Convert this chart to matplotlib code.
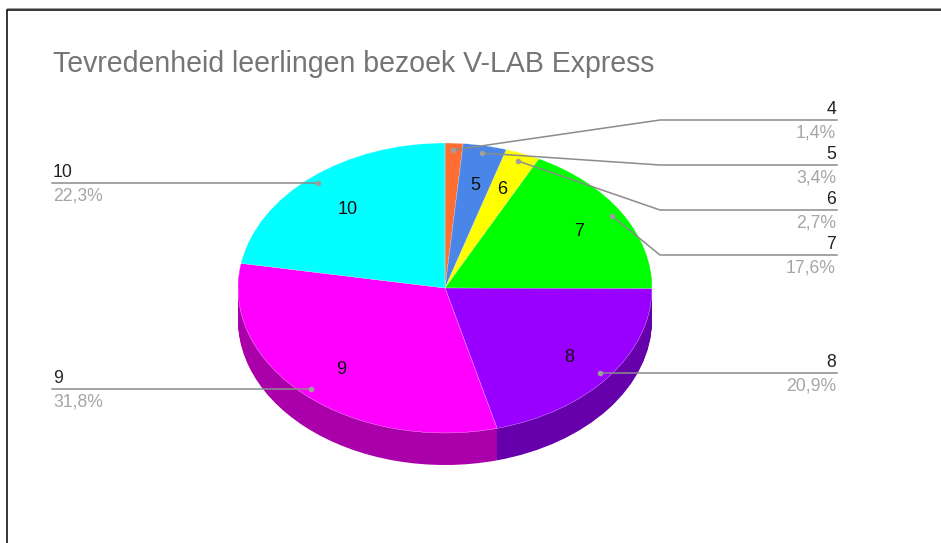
import matplotlib
matplotlib.use("Agg")
import matplotlib.pyplot as plt
from matplotlib.colors import to_rgb

title = "Tevredenheid leerlingen bezoek V-LAB Express"
scores = ["4", "5", "6", "7", "8", "9", "10"]
percent = [1.4, 3.4, 2.7, 17.6, 20.9, 31.8, 22.3]
colors = ["#ff6d33", "#4a86e8", "#ffff00", "#00ff00", "#9900ff", "#ff00ff", "#00ffff"]

# layout in pixels of the picture
W, H = 941, 543
cx, cy, rx, ry, depth = 445, 288, 207, 145, 32
inside_pos = {"5": (475, 185), "6": (502, 190), "7": (579, 232), "8": (569, 358),
              "9": (341, 370), "10": (348, 210)}
leaders = {
    "4": [(453, 150), (660, 120), (837, 120)],
    "5": [(482, 153), (660, 165), (837, 165)],
    "6": [(518, 161), (660, 210), (837, 210)],
    "7": [(612, 216), (660, 255), (837, 255)],
    "8": [(600, 373), (837, 373)],
    "9": [(311, 389), (52, 389)],
    "10": [(318, 183), (52, 183)],
}

plt.rcParams["font.family"] = ["Liberation Sans", "DejaVu Sans"]
fig = plt.figure(figsize=(W / 100, H / 100), dpi=100)

# one data unit = the pie radius, so the circle comes out as the flat ellipse
ax = fig.add_axes([0, 0, 1, 1])
side = [tuple(c * 0.667 for c in to_rgb(col)) for col in colors]
for k in range(depth, 0, -1):
    ax.pie(percent, colors=side, startangle=90, counterclock=False, radius=1,
           center=(0, -k / ry), wedgeprops={"linewidth": 0})
ax.pie(percent, colors=colors, startangle=90, counterclock=False, radius=1,
       center=(0, 0), wedgeprops={"linewidth": 0.2, "edgecolor": "white"})
ax.set_aspect("auto")
ax.set_xlim(-cx / rx, (W - cx) / rx)
ax.set_ylim((cy - H) / ry, cy / ry)
ax.axis("off")

# overlay in pixel coordinates for frame, leaders and text
ov = fig.add_axes([0, 0, 1, 1])
ov.set_xlim(0, W)
ov.set_ylim(H, 0)
ov.axis("off")
ov.patch.set_alpha(0)

ov.plot([7, 7, W], [H, 9.5, 9.5], color="black", lw=1.1, solid_joinstyle="miter")
ov.plot([7, W], [8.2, 8.2], color="#999999", lw=0.7)

ov.text(53, 64, title, fontsize=20.55, color="#757575", va="center", ha="left")

for name, val in zip(scores, percent):
    pts = leaders[name]
    ov.plot([p[0] for p in pts], [p[1] for p in pts], color="#8c8c8c", lw=1.1)
    ov.plot(pts[0][0], pts[0][1], "o", color="#9e9e9e", ms=4, mew=0)
    end = pts[-1]
    right = end[0] > cx
    x = end[0] - 1 if right else end[0] + 1
    ha = "right" if right else "left"
    ov.text(x, end[1] - 10.5, name, fontsize=12.7, color="#222222", ha=ha, va="center")
    ov.text(x, end[1] + 13, f"{val:.1f}%".replace(".", ","), fontsize=12.7,
            color="#a6a6a6", ha=ha, va="center")

for name, (x, y) in inside_pos.items():
    ov.text(x, y, name, fontsize=13, color="#111111", ha="center", va="center")

fig.savefig("out.png", dpi=100)
